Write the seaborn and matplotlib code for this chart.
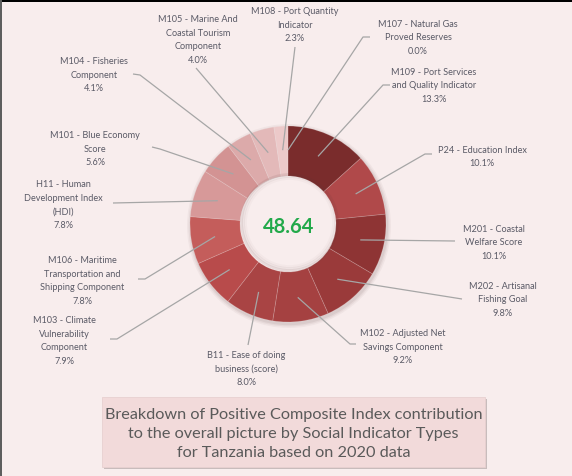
import numpy as np
import pandas as pd
import matplotlib
matplotlib.use("Agg")
import matplotlib.pyplot as plt
import seaborn as sns
from matplotlib.patches import Rectangle, Circle, Wedge

# ---- data (clockwise from 12 o'clock) ----
labels = [
    "M107 - Natural Gas\nProved Reserves",
    "M109 - Port Services\nand Quality Indicator",
    "P24 - Education Index",
    "M201 - Coastal\nWelfare Score",
    "M202 - Artisanal\nFishing Goal",
    "M102 - Adjusted Net\nSavings Component",
    "B11 - Ease of doing\nbusiness (score)",
    "M103 - Climate\nVulnerability\nComponent",
    "M106 - Maritime\nTransportation and\nShipping Component",
    "H11 - Human\nDevelopment Index\n(HDI)",
    "M101 - Blue Economy\nScore",
    "M104 - Fisheries\nComponent",
    "M105 - Marine And\nCoastal Tourism\nComponent",
    "M108 - Port Quantity\nIndicator",
]
shares = [0.0, 13.3, 10.1, 10.1, 9.8, 9.2, 8.0, 7.9, 7.8, 7.8, 5.6, 4.1, 4.0, 2.3]
colors = ["#7a2c2c", "#7a2c2c", "#b0494a", "#8e3434", "#9a3a3a", "#a54141",
          "#a94444", "#b84b4b", "#c45d5b", "#d79999", "#d39393", "#dcaaaa",
          "#e3b9b9", "#ecc9c9"]
center_value = "48.64"
caption = ("Breakdown of Positive Composite Index contribution\n"
           "to the overall picture by Social Indicator Types\n"
           "for Tanzania based on 2020 data")

df = pd.DataFrame({"label": labels, "share": shares, "color": colors})

# ---- layout (pixel coordinates, y downward) ----
W, H = 572, 477
CX, CY, R, RIN = 288, 225, 98, 48
# text centre, leader elbow, leader end
layout = [
    ((418, 38), (363, 38), (370, 38)),
    ((434, 86), (383, 86), (390, 86)),
    ((482, 157), (425, 155), (432, 155)),
    ((494, 243), (455, 242), None),
    ((503, 300), (462, 300), None),
    ((403, 347), (350, 345), (356, 345)),
    ((246, 369), (248, 346), None),
    ((64, 341), (117, 340), (110, 340)),
    ((82, 281), (145, 280), (138, 280)),
    ((63, 205), (113, 204), None),
    ((95, 149), (160, 150), (152, 148)),
    ((94, 75), (140, 76), (133, 75)),
    ((198, 40), (196, 69), None),
    ((295, 25), (295, 48), None),
]

def Y(y):
    return H - y

sns.set_theme(style="white")
plt.rcParams["font.family"] = ["Lato", "DejaVu Sans"]

bg = "#f8eded"
fig = plt.figure(figsize=(W / 100, H / 100), dpi=100, facecolor=bg)
ax = fig.add_axes([0, 0, 1, 1])
ax.set_facecolor(bg)

# soft shadow behind donut (ring only)
for k, a in [(4, 0.05), (2.5, 0.07), (1.2, 0.09)]:
    ax.add_patch(Wedge((CX + 1, Y(CY) - 2), R + k, 0, 360, width=R + k - RIN - 2,
                       color="#6b4a4a", alpha=a, lw=0, zorder=0))

wedges, _ = ax.pie(df["share"], colors=df["color"], startangle=90, counterclock=False,
                   center=(CX, Y(CY)), radius=R,
                   wedgeprops=dict(width=R - RIN, edgecolor=(1, 1, 1, 0.18), linewidth=0.6))
# inner shadow
for k, a in [(0, 0.10), (2, 0.06), (4, 0.03)]:
    ax.add_patch(Circle((CX + 1.5, Y(CY) + 1.5), RIN - k, fill=False, ec="#5a3a3a",
                        lw=2, alpha=a, zorder=3))

ax.set_xlim(0, W)
ax.set_ylim(0, H)
ax.set_aspect("equal")
ax.axis("off")

# labels and leader lines
total = df["share"].sum()
cum = 0.0
rl = 0.755 * R
for (lab, val), (tpos, elbow, end) in zip(zip(df["label"], df["share"]), layout):
    mid = cum + val / 2
    cum += val
    theta = np.deg2rad(90 - 360 * mid / total)
    sx, sy = CX + rl * np.cos(theta), Y(CY) + rl * np.sin(theta)
    xs = [sx, elbow[0]]
    ys = [sy, Y(elbow[1])]
    if end is not None:
        xs.append(end[0])
        ys.append(Y(end[1]))
    ax.plot(xs, ys, color="#a6a6a6", lw=0.9, zorder=4, solid_capstyle="butt")
    ax.text(tpos[0], Y(tpos[1]), f"{lab}\n{val:.1f}%", ha="center", va="center",
            fontsize=6.6, color="#5a5a66", linespacing=1.65, zorder=5)

ax.text(CX + 1, Y(CY + 2), center_value, ha="center", va="center", fontsize=14.5,
        fontweight="bold", color="#22a94a", zorder=6)

# caption box
bx0, by0, bx1, by1 = 102, 398, 485, 468
ax.add_patch(Rectangle((bx0 + 2, Y(by1) - 2), bx1 - bx0, by1 - by0, color="#a89c9c",
                       alpha=0.6, lw=0, zorder=6))
ax.add_patch(Rectangle((bx0, Y(by1)), bx1 - bx0, by1 - by0, facecolor="#f2dada",
                       edgecolor="#e8d0d0", lw=0.6, zorder=7))
ax.text((bx0 + bx1) / 2, Y(434), caption, ha="center", va="center", fontsize=11.7,
        color="#5a5a5a", linespacing=1.42, zorder=8)

# frame
fig.add_artist(Rectangle((0, 1 - 3 / H), 1, 3 / H, transform=fig.transFigure,
                         color="black", lw=0, zorder=10))
fig.add_artist(Rectangle((0, 0), 2 / W, 1, transform=fig.transFigure,
                         color="#5e5e5e", lw=0, zorder=10))

fig.savefig("out.png", dpi=100, facecolor=bg)
